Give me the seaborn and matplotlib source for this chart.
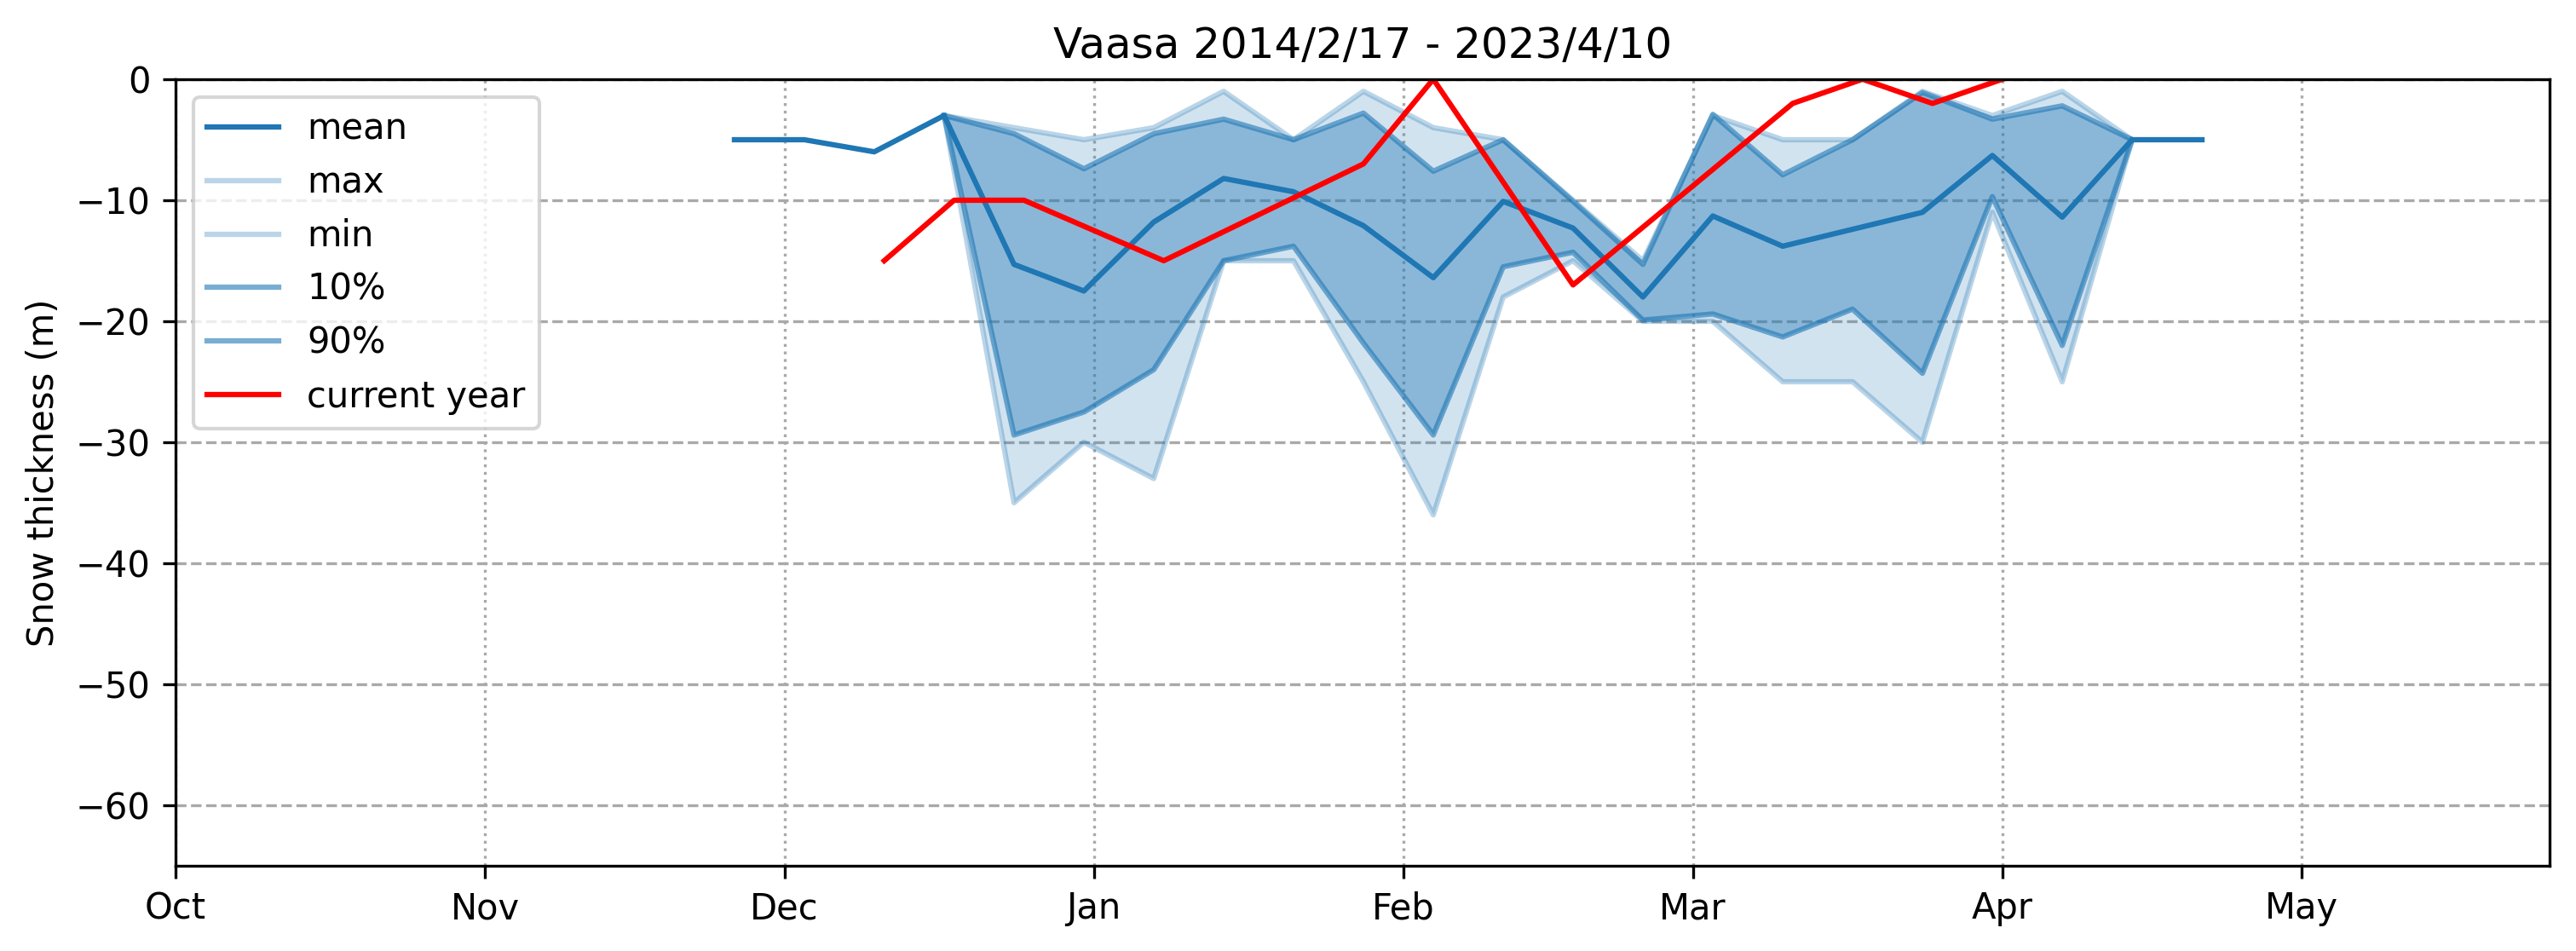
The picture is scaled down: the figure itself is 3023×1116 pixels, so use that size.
import numpy as np
import pandas as pd
import matplotlib
matplotlib.use("Agg")
import matplotlib.pyplot as plt
import matplotlib.dates as mdates
import seaborn as sns

# ---------------- data ----------------
mean_dates = ["2023-11-26", "2023-12-03", "2023-12-10", "2023-12-17", "2023-12-24",
              "2023-12-31", "2024-01-07", "2024-01-14", "2024-01-21", "2024-01-28",
              "2024-02-04", "2024-02-11", "2024-02-18", "2024-02-25", "2024-03-03",
              "2024-03-10", "2024-03-17", "2024-03-24", "2024-03-31", "2024-04-07",
              "2024-04-14", "2024-04-21"]
mean_vals = [-5, -5, -6, -3, -15.3, -17.5, -11.8, -8.2, -9.3, -12.1, -16.4, -10.1,
             -12.3, -18.0, -11.3, -13.8, -12.4, -11.0, -6.3, -11.4, -5.0, -5.0]

band_dates = ["2023-12-17", "2023-12-24", "2023-12-31", "2024-01-07", "2024-01-14",
              "2024-01-21", "2024-01-28", "2024-02-04", "2024-02-11", "2024-02-18",
              "2024-02-25", "2024-03-03", "2024-03-10", "2024-03-17", "2024-03-24",
              "2024-03-31", "2024-04-07", "2024-04-14"]
max_vals = [-3, -4, -5, -4, -1, -5, -1, -4, -5, -10, -15, -3, -5, -5, -1, -3, -1, -5]
min_vals = [-3, -35, -30, -33, -15, -15, -25, -36, -18, -15, -20, -20, -25, -25, -30,
            -11, -25, -5]
p10_vals = [-3, -29.4, -27.5, -24.0, -15.0, -13.8, -21.8, -29.4, -15.5, -14.3, -19.9,
            -19.4, -21.3, -19.0, -24.3, -9.7, -22.0, -5]
p90_vals = [-3, -4.5, -7.4, -4.5, -3.3, -5.0, -2.8, -7.6, -5.0, -10.1, -15.3, -2.9,
            -7.9, -5.0, -1.1, -3.3, -2.2, -5]

cur_dates = ["2023-12-11", "2023-12-18", "2023-12-25", "2024-01-08", "2024-01-28",
             "2024-02-04", "2024-02-18", "2024-03-11", "2024-03-18", "2024-03-25",
             "2024-04-01"]
cur_vals = [-15, -10, -10, -15, -7, 0, -17, -2, 0, -2, 0]

month_ticks = ["2023-10-01", "2023-11-01", "2023-12-01", "2024-01-01", "2024-02-01",
               "2024-03-01", "2024-04-01", "2024-05-01"]
yticks = [0, -10, -20, -30, -40, -50, -60]
title = "Vaasa 2014/2/17 - 2023/4/10"
ylabel = "Snow thickness (m)"

# ---------------- frames ----------------
dfm = pd.DataFrame({"date": pd.to_datetime(mean_dates), "v": mean_vals})
dfb = pd.DataFrame({"date": pd.to_datetime(band_dates), "max": max_vals, "min": min_vals,
                    "p10": p10_vals, "p90": p90_vals})
dfc = pd.DataFrame({"date": pd.to_datetime(cur_dates), "v": cur_vals})

blue = "#1f77b4"
DPI = 300

fig = plt.figure(figsize=(3023 / DPI, 1116 / DPI), dpi=DPI)
ax = fig.add_axes([0.0681, 0.0896, 0.9898 - 0.0681, 0.9167 - 0.0896])

ax.fill_between(dfb["date"], dfb["min"], dfb["max"], color=blue, alpha=0.2, lw=0)
ax.fill_between(dfb["date"], dfb["p10"], dfb["p90"], color=blue, alpha=0.4, lw=0)

sns.lineplot(data=dfm, x="date", y="v", ax=ax, color=blue, lw=1.5, label="mean")
sns.lineplot(data=dfb, x="date", y="max", ax=ax, color=blue, alpha=0.3, lw=1.5, label="max")
sns.lineplot(data=dfb, x="date", y="min", ax=ax, color=blue, alpha=0.3, lw=1.5, label="min")
sns.lineplot(data=dfb, x="date", y="p10", ax=ax, color=blue, alpha=0.6, lw=1.5, label="10%")
sns.lineplot(data=dfb, x="date", y="p90", ax=ax, color=blue, alpha=0.6, lw=1.5, label="90%")
sns.lineplot(data=dfc, x="date", y="v", ax=ax, color="red", lw=1.5, label="current year")

ax.set_xlim(pd.Timestamp("2023-10-01"), pd.Timestamp("2024-05-25 20:00"))
ax.set_ylim(-65, 0)
ax.set_xticks(pd.to_datetime(month_ticks))
ax.xaxis.set_major_formatter(mdates.DateFormatter("%b"))
ax.set_yticks(yticks)
ax.yaxis.grid(True, linestyle="--", color="darkgray", lw=0.8)
ax.xaxis.grid(True, linestyle=":", color="darkgray", lw=0.8)
ax.set_axisbelow(True)
ax.set_xlabel("")
ax.set_ylabel(ylabel)
ax.set_title(title)
ax.legend(loc="upper left")

fig.savefig("out.png", dpi=DPI)
